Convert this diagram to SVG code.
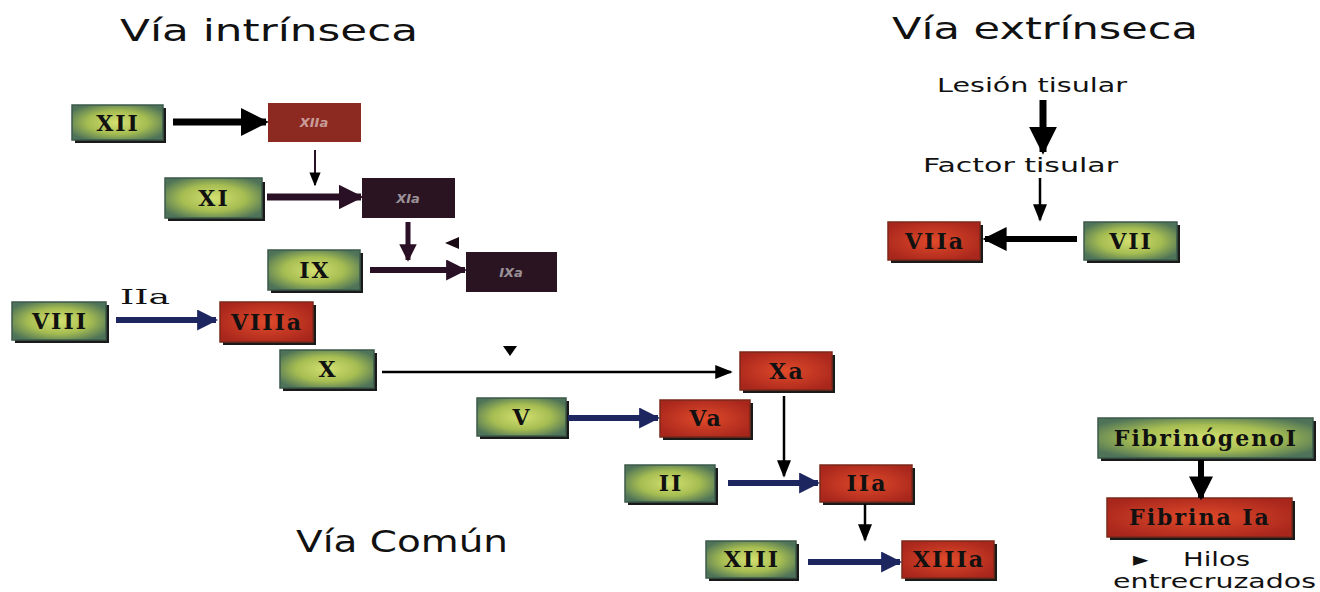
<svg xmlns="http://www.w3.org/2000/svg" width="1320" height="592" viewBox="0 0 1320 592">
<defs>
<radialGradient id="gG" cx="0.5" cy="0.5" r="0.6">
<stop offset="0" stop-color="#d4e070"/>
<stop offset="0.55" stop-color="#a6bd52"/>
<stop offset="1" stop-color="#4e7358"/>
</radialGradient>
<radialGradient id="gR" cx="0.5" cy="0.5" r="0.6">
<stop offset="0" stop-color="#e04a2a"/>
<stop offset="1" stop-color="#a8261c"/>
</radialGradient>
<marker id="ahB" viewBox="0 0 10 10" refX="9" refY="5" markerWidth="4" markerHeight="4" orient="auto"><path d="M0,0 L10,5 L0,10 Z" fill="#000"/></marker>
<marker id="ahS" viewBox="0 0 10 10" refX="9" refY="5" markerWidth="7" markerHeight="7" orient="auto"><path d="M0,1 L10,5 L0,9 Z" fill="#000"/></marker>
<marker id="ahP" viewBox="0 0 10 10" refX="9" refY="5" markerWidth="3.5" markerHeight="3.5" orient="auto"><path d="M0,0 L10,5 L0,10 Z" fill="#2a1024"/></marker>
<marker id="ahN" viewBox="0 0 10 10" refX="9" refY="5" markerWidth="3.5" markerHeight="3.5" orient="auto"><path d="M0,0 L10,5 L0,10 Z" fill="#1e2660"/></marker>
</defs>
<style>
.title{font-family:"DejaVu Sans",sans-serif;font-size:31px;fill:#111}
.lab{font-family:"DejaVu Sans",sans-serif;font-size:20px;fill:#111}
.g{fill:url(#gG);stroke:#3d5a4a;stroke-width:1.5}
.r{fill:url(#gR);stroke:#7a2a1a;stroke-width:1.5}
.rb{fill:#8c2a22}
.dk{fill:#2a1422}
.sh{fill:#1a1a1a}
.bt{font-family:"DejaVu Serif",serif;font-weight:bold;font-size:22px;fill:#111;text-anchor:middle;letter-spacing:2px}
.ft{font-family:"DejaVu Sans",sans-serif;font-weight:bold;font-size:13px;fill:#fff;fill-opacity:0.55;text-anchor:middle;font-style:italic}
</style>
<rect width="1320" height="592" fill="#fff"/>
<text class="title" x="120" y="41" textLength="298" lengthAdjust="spacingAndGlyphs">Vía intrínseca</text>
<text class="title" x="892" y="39" textLength="306" lengthAdjust="spacingAndGlyphs">Vía extrínseca</text>
<text class="title" x="296" y="552" textLength="212" lengthAdjust="spacingAndGlyphs">Vía Común</text>
<text class="lab" x="937" y="92" textLength="190" lengthAdjust="spacingAndGlyphs">Lesión tisular</text>
<text class="lab" x="923" y="172" textLength="195" lengthAdjust="spacingAndGlyphs">Factor tisular</text>
<text x="120" y="304" font-family="DejaVu Serif,serif" font-size="21" fill="#111" textLength="50" lengthAdjust="spacingAndGlyphs">IIa</text>

<g id="n-XII"><rect class="sh" x="75" y="108" width="91" height="35"/><rect class="g" x="72" y="105" width="91" height="35"/><text class="bt" x="118" y="131">XII</text></g>
<g id="n-XIIa"><rect class="rb" x="268" y="103" width="93" height="39"/><text class="ft" x="314" y="127">XIIa</text></g>
<g id="n-XI"><rect class="sh" x="168" y="182" width="97" height="39"/><rect class="g" x="165" y="178" width="97" height="40"/><text class="bt" x="214" y="206">XI</text></g>
<g id="n-XIa"><rect class="dk" x="362" y="178" width="93" height="40"/><text class="ft" x="408" y="203">XIa</text></g>
<g id="n-IX"><rect class="sh" x="271" y="253" width="92" height="40"/><rect class="g" x="268" y="250" width="92" height="40"/><text class="bt" x="315" y="278">IX</text></g>
<g id="n-IXa"><rect class="dk" x="466" y="252" width="91" height="40"/><text class="ft" x="511" y="277">IXa</text></g>
<g id="n-VIII"><rect class="sh" x="15" y="305" width="94" height="38"/><rect class="g" x="12" y="302" width="94" height="38"/><text class="bt" x="60" y="329">VIII</text></g>
<g id="n-VIIIa"><rect class="sh" x="223" y="305" width="93" height="40"/><rect class="r" x="220" y="302" width="93" height="40"/><text class="bt" x="267" y="330">VIIIa</text></g>
<g id="n-X"><rect class="sh" x="283" y="353" width="94" height="38"/><rect class="g" x="280" y="350" width="94" height="38"/><text class="bt" x="328" y="377">X</text></g>
<g id="n-Xa"><rect class="sh" x="743" y="355" width="92" height="38"/><rect class="r" x="740" y="352" width="92" height="38"/><text class="bt" x="787" y="379">Xa</text></g>
<g id="n-V"><rect class="sh" x="480" y="401" width="89" height="38"/><rect class="g" x="477" y="398" width="89" height="38"/><text class="bt" x="522" y="425">V</text></g>
<g id="n-Va"><rect class="sh" x="663" y="403" width="90" height="37"/><rect class="r" x="660" y="400" width="90" height="37"/><text class="bt" x="706" y="426">Va</text></g>
<g id="n-II"><rect class="sh" x="628" y="468" width="90" height="37"/><rect class="g" x="625" y="465" width="90" height="37"/><text class="bt" x="671" y="491">II</text></g>
<g id="n-IIa"><rect class="sh" x="823" y="468" width="92" height="37"/><rect class="r" x="820" y="465" width="92" height="37"/><text class="bt" x="867" y="491">IIa</text></g>
<g id="n-XIII"><rect class="sh" x="709" y="544" width="90" height="37"/><rect class="g" x="706" y="541" width="90" height="37"/><text class="bt" x="752" y="567">XIII</text></g>
<g id="n-XIIIa"><rect class="sh" x="905" y="544" width="92" height="37"/><rect class="r" x="902" y="541" width="92" height="37"/><text class="bt" x="949" y="567">XIIIa</text></g>
<g id="n-VIIa"><rect class="sh" x="891" y="225" width="92" height="38"/><rect class="r" x="888" y="222" width="92" height="38"/><text class="bt" x="935" y="249">VIIa</text></g>
<g id="n-VII"><rect class="sh" x="1087" y="225" width="93" height="38"/><rect class="g" x="1084" y="222" width="93" height="38"/><text class="bt" x="1131" y="249">VII</text></g>
<g id="n-Fibrinogeno"><rect class="sh" x="1101" y="421" width="215" height="40"/><rect class="g" x="1098" y="418" width="215" height="40"/><text class="bt" x="1206" y="446" letter-spacing="1">FibrinógenoI</text></g>
<g id="n-Fibrina"><rect class="sh" x="1110" y="501" width="185" height="39"/><rect class="r" x="1107" y="498" width="185" height="39"/><text class="bt" x="1200" y="525">Fibrina Ia</text></g>

<text class="lab" x="1133" y="566" font-size="18">►</text>
<text class="lab" x="1183" y="566" font-size="17" textLength="67" lengthAdjust="spacingAndGlyphs">Hilos</text>
<text class="lab" x="1113" y="588" font-size="17" textLength="203" lengthAdjust="spacingAndGlyphs">entrecruzados</text>

<g id="connectors">
<line x1="173" y1="122" x2="266" y2="122" stroke="#000" stroke-width="7" marker-end="url(#ahB)"/>
<line x1="315" y1="150" x2="315" y2="185" stroke="#2a1024" stroke-width="2" marker-end="url(#ahS)"/>
<line x1="267" y1="197" x2="361" y2="197" stroke="#2a1024" stroke-width="7" marker-end="url(#ahP)"/>
<line x1="408" y1="222" x2="408" y2="260" stroke="#2a1024" stroke-width="5" marker-end="url(#ahP)"/>
<path d="M445,243 L459,237 L459,249 Z" fill="#1a0a14"/>
<line x1="370" y1="270" x2="465" y2="270" stroke="#2a1024" stroke-width="6" marker-end="url(#ahP)"/>
<line x1="116" y1="320" x2="216" y2="320" stroke="#1e2660" stroke-width="6" marker-end="url(#ahN)"/>
<line x1="382" y1="372" x2="731" y2="372" stroke="#000" stroke-width="2.5" marker-end="url(#ahS)"/>
<path d="M503,346 L517,346 L510,356 Z" fill="#000"/>
<line x1="568" y1="418" x2="658" y2="418" stroke="#1e2660" stroke-width="6" marker-end="url(#ahN)"/>
<line x1="784" y1="396" x2="784" y2="476" stroke="#000" stroke-width="2.5" marker-end="url(#ahS)"/>
<line x1="728" y1="483" x2="818" y2="483" stroke="#1e2660" stroke-width="6" marker-end="url(#ahN)"/>
<line x1="865" y1="504" x2="865" y2="540" stroke="#000" stroke-width="2.5" marker-end="url(#ahS)"/>
<line x1="808" y1="562" x2="900" y2="562" stroke="#1e2660" stroke-width="6" marker-end="url(#ahN)"/>
<line x1="1043" y1="100" x2="1043" y2="152" stroke="#000" stroke-width="7" marker-end="url(#ahB)"/>
<line x1="1040" y1="178" x2="1040" y2="220" stroke="#000" stroke-width="2.5" marker-end="url(#ahS)"/>
<line x1="1077" y1="239" x2="985" y2="239" stroke="#000" stroke-width="6" marker-end="url(#ahB)"/>
<line x1="1201" y1="460" x2="1201" y2="498" stroke="#000" stroke-width="6" marker-end="url(#ahB)"/>
</g>
</svg>
